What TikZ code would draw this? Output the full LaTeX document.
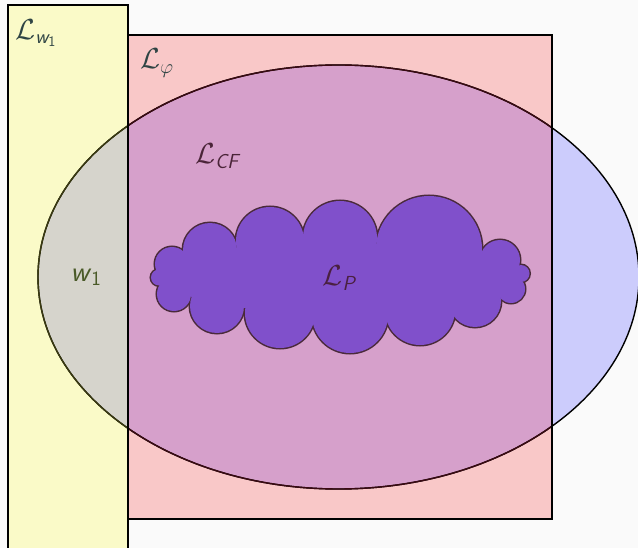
\RequirePackage{fix-cm}
\documentclass[tikz,border=0pt]{standalone}
\usepackage{amsmath}
\usepackage{fontspec}
\definecolor{bgc}{HTML}{FAFAFA}
\definecolor{yel}{HTML}{FAFAC8}
\definecolor{pnk}{HTML}{F9C8C8}
\definecolor{blu}{HTML}{CCCCFC}
\definecolor{ymix}{HTML}{D6D4CC}
\definecolor{pmix}{HTML}{D6A0CB}
\definecolor{cloudfill}{HTML}{8050CB}
\definecolor{cloudline}{HTML}{4A2A3A}
\definecolor{yline}{HTML}{3A3A10}
\definecolor{pline}{HTML}{3A0A12}
\definecolor{slate}{HTML}{2F4444}
\definecolor{maroonish}{HTML}{4A2438}
\definecolor{olivish}{HTML}{4A5A28}
\definecolor{plabel}{HTML}{4A2040}
\tikzset{
  rectline/.style={draw=black, line width=2},
  lbl/.style={inner sep=0pt, font=\fontsize{29}{34}\selectfont}
}
\begin{document}
\begin{tikzpicture}[x=1pt,y=-1pt]
\useasboundingbox (0,0) rectangle (638,548);
\fill[bgc] (0,0) rectangle (638,548);
\clip (0,0) rectangle (638,548);
% rectangle fills
\fill[yel] (8,5) rectangle (128,560);
\fill[pnk] (128,35) rectangle (552,519);
% ellipse fill and overlaps
\fill[blu] (338.5,277) ellipse [x radius=300.5, y radius=212];
\begin{scope}
  \clip (338.5,277) ellipse [x radius=300.5, y radius=212];
  \fill[ymix] (8,5) rectangle (128,560);
  \fill[pmix] (128,35) rectangle (552,519);
\end{scope}
% ellipse border
\draw[line width=1.4, black] (338.5,277) ellipse [x radius=300.5, y radius=212];
\begin{scope}
  \clip (8,5) rectangle (128,560);
  \draw[line width=1.4, yline] (338.5,277) ellipse [x radius=300.5, y radius=212];
\end{scope}
\begin{scope}
  \clip (128,35) rectangle (552,519);
  \draw[line width=1.4, pline] (338.5,277) ellipse [x radius=300.5, y radius=212];
\end{scope}
% cloud as union of circles
\def\cloudcircles{159/277.5/8, 172/264/17, 210/250/27, 270/241/34, 340/238/37,
  429/249/53, 500/260/20, 521/273.5/8.5, 511/289/14, 475/301/26, 420/310/35,
  350/315/38, 280/313/35, 217/306/27, 174/294/17}
\foreach \cx/\cy/\r in \cloudcircles {
  \draw[cloudline, line width=3] (\cx,\cy) circle [radius=\r];
}
\foreach \cx/\cy/\r in \cloudcircles {
  \fill[cloudfill] (\cx,\cy) circle [radius=\r];
}
\fill[cloudfill] (162,278) -- (175,262) -- (210,252) -- (270,243) -- (340,240)
  -- (430,250) -- (500,262) -- (515,275) -- (505,292) -- (475,300) -- (420,310)
  -- (350,315) -- (280,312) -- (218,305) -- (176,292) -- cycle;
% rectangle borders
\draw[rectline] (8,5) rectangle (128,560);
\draw[rectline] (128,35) rectangle (552,519);
% labels
\node[lbl, text=slate] (Lw) at (36,33) {$\mathcal{L}_{\textsf{\itshape w}_{\textsf{1}}}$};
\node[lbl, text=slate] (Lphi) at (157,63) {$\mathcal{L}_{\varphi}$};
\node[lbl, text=maroonish] (Lcf) at (217,156) {$\mathcal{L}_{\textsf{\itshape CF}}$};
\node[lbl, text=olivish] (w) at (86,277) {\textsf{\itshape w}$_{\textsf{1}}$};
\node[lbl, text=plabel] (Lp) at (339,278) {$\mathcal{L}_{\textsf{\itshape P}}$};
\end{tikzpicture}
\end{document}
